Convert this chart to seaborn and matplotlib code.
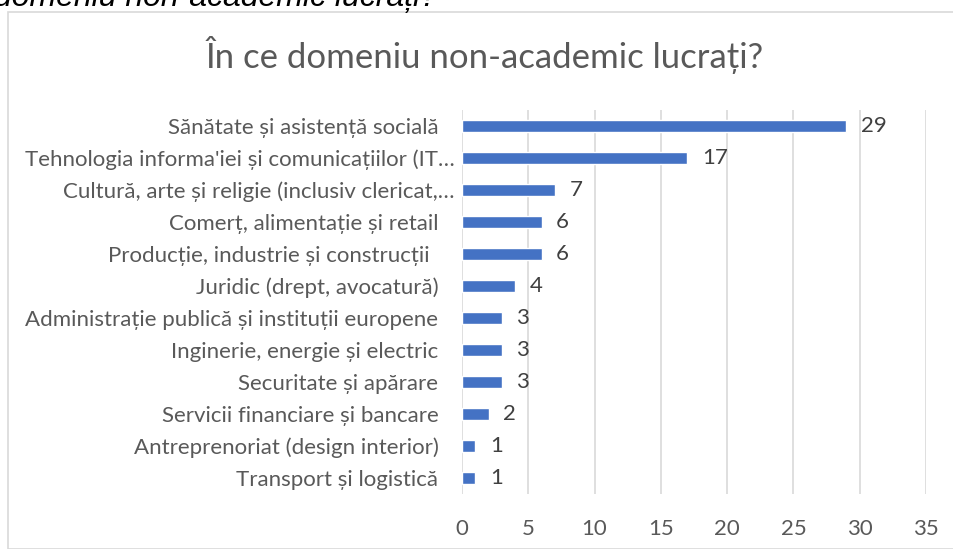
#!/usr/bin/env python3
"""
Domeniu non-academic - horizontal bar chart
"""
import matplotlib
matplotlib.use('Agg')
import matplotlib.pyplot as plt
import matplotlib.transforms as mtransforms
import seaborn as sns
import pandas as pd
from matplotlib.patches import Rectangle

# Data
categories = [
    'Sănătate și asistență socială',
    "Tehnologia informa'iei și comunicațiilor (IT…",
    'Cultură, arte și religie (inclusiv clericat,…',
    'Comerț, alimentație și retail',
    'Producție, industrie și construcții',
    'Juridic (drept, avocatură)',
    'Administrație publică și instituții europene',
    'Inginerie, energie și electric',
    'Securitate și apărare',
    'Servicii financiare și bancare',
    'Antreprenoriat (design interior)',
    'Transport și logistică',
]
counts = [29, 17, 7, 6, 6, 4, 3, 3, 3, 2, 1, 1]
x_ticks = [0, 5, 10, 15, 20, 25, 30, 35]

df = pd.DataFrame({'Domeniu': categories, 'Numar': counts})

# Style
sns.set_style('white')
plt.rcParams['font.family'] = ['Lato', 'DejaVu Sans']
TEXT = '#595959'
BAR = '#4472C4'
GRID = '#D9D9D9'

W, H = 954, 549
fig = plt.figure(figsize=(W / 100, H / 100), dpi=100)

# chart border (cropped screenshot)
fig.patches.append(Rectangle((8 / W, 0), 1.0, 1 - 12 / H, transform=fig.transFigure,
                             fill=False, edgecolor='#D9D9D9', linewidth=1.2))

# cropped question text at the very top
fig.text(-6 / W, 1 - 6 / H, 'domeniu non-academic lucrați?', fontsize=23, style='italic',
         color='black', va='baseline', ha='left', family=['Liberation Sans', 'DejaVu Sans'])

ax = fig.add_axes([462 / W, 1 - 494 / H, (926 - 462) / W, (494 - 110) / H])

sns.barplot(data=df, x='Numar', y='Domeniu', orient='h', color=BAR, width=0.35,
            saturation=1, ax=ax)

ax.set_xlim(0, 35)
ax.set_ylim(len(categories) - 0.5, -0.5)
ax.set_xticks(x_ticks)
ax.grid(axis='x', color=GRID, linewidth=1.2)
ax.set_axisbelow(True)
for s in ax.spines.values():
    s.set_visible(False)
ax.set_xlabel('')
ax.set_ylabel('')
ax.tick_params(axis='x', length=0, pad=18, labelsize=16, labelcolor=TEXT)
ax.tick_params(axis='y', length=0, pad=17, labelsize=16, labelcolor=TEXT)

# truncated labels run a bit further right, the one with trailing spaces a bit less
shifts = {1: 16, 2: 16, 4: -9}
for i, lab in enumerate(ax.get_yticklabels()):
    if i in shifts:
        lab.set_transform(lab.get_transform() +
                          mtransforms.ScaledTranslation(shifts[i] / 100, 0, fig.dpi_scale_trans))

for i, v in enumerate(counts):
    ax.text(v + 1.1, i, str(v), va='center', ha='left', fontsize=16, color='#404040')

fig.text(485 / W, 1 - 55 / H, 'În ce domeniu non-academic lucrați?', fontsize=25,
         color=TEXT, ha='center', va='center')

plt.savefig('out.png', dpi=100)
plt.close()
